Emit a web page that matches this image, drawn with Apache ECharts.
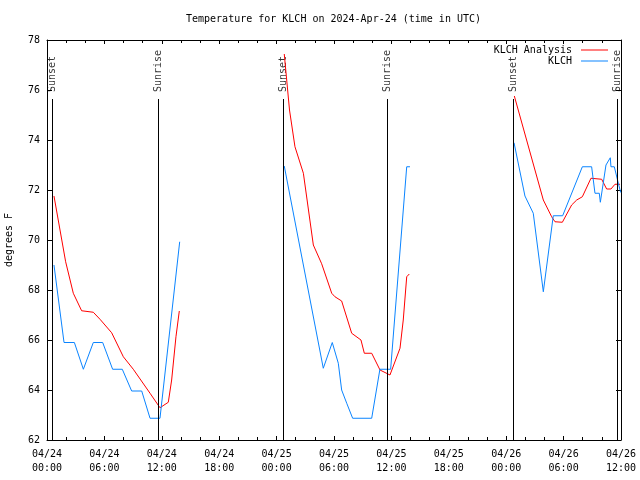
<!DOCTYPE html>
<html>
<head>
<meta charset="utf-8">
<script src="https://cdn.jsdelivr.net/npm/echarts@6/dist/echarts.min.js"></script>
<style>
html,body{margin:0;padding:0;background:#fff;}
#chart{width:640px;height:480px;}
</style>
</head>
<body>
<div id="chart"></div>
<script>
// ---- data (hours since 2024-04-24 00:00 UTC) ----
const xTickLabels = ['04/24\n00:00','04/24\n06:00','04/24\n12:00','04/24\n18:00','04/25\n00:00','04/25\n06:00','04/25\n12:00','04/25\n18:00','04/26\n00:00','04/26\n06:00','04/26\n12:00'];

const analysisTime = [0.73,1.95,2.75,3.62,4.84,5.54,6.76,7.98,9.02,10.77,11.81,12.68,13.03,13.48,13.83,
  null,
  24.8,25.35,25.92,26.8,27.84,28.71,29.76,30.1,30.8,31.85,32.82,33.17,33.94,34.81,35.85,36.9,37.24,37.6,37.87,
  null,
  48.85,51.88,52.75,53.1,53.87,54.84,55.37,55.96,56.86,57.98,58.5,58.95,59.37,59.9];
const analysisTemp = [71.76,69.13,67.87,67.17,67.11,66.83,66.29,65.33,64.83,63.87,63.29,63.51,64.4,66.13,67.16,
  null,
  77.44,75.2,73.73,72.67,69.8,69.05,67.87,67.73,67.56,66.27,66.0,65.47,65.47,64.8,64.6,65.67,66.8,68.53,68.64,
  null,
  75.76,71.6,70.93,70.73,70.71,71.4,71.6,71.73,72.47,72.43,72.04,72.04,72.23,72.23];

const obsTime = [0.73,1.78,2.86,3.8,4.84,5.82,6.86,7.87,8.85,9.9,10.77,11.81,13.87,
  null,
  24.8,28.88,29.82,30.45,30.8,31.33,31.95,33.94,34.8,35.92,37.6,37.94,
  null,
  48.82,49.96,50.83,51.88,52.92,53.9,55.96,56.93,57.28,57.73,57.84,58.43,58.88,58.95,59.3,59.72,59.97];
const obsTemp = [69.0,65.9,65.9,64.83,65.9,65.9,64.83,64.83,63.96,63.96,62.87,62.87,69.93,
  null,
  72.96,64.87,65.9,65.07,64.0,63.47,62.87,62.87,64.83,64.83,72.93,72.93,
  null,
  73.89,71.76,71.07,67.93,70.97,70.97,72.93,72.93,71.87,71.87,71.51,73.0,73.29,72.93,72.93,72.27,71.9];

const sunTime  = [0.6, 11.64, 24.7, 35.57, 48.74, 59.61];
const sunLabel = ['Sunset','Sunrise','Sunset','Sunrise','Sunset','Sunrise'];

// ---- chart ----
const FONT = 'DejaVu Sans Mono';
const Y_MIN = 62, Y_MAX = 78;
const SUN_LINE_TOP = 75.64;
const SUN_LABEL_Y = 75.92;

function pairs(t, v) {
  return t.map((x, i) => (x == null ? [NaN, '-'] : [x, v[i]]));
}

const chart = echarts.init(document.getElementById('chart'), null, {renderer: 'canvas'});

const axisCommonX = {
  type: 'value', min: 0, max: 60, interval: 6,
  axisLine: {show: true, onZero: false, lineStyle: {color: '#000', width: 1}},
  axisTick: {show: true, inside: true, length: 4, lineStyle: {color: '#000'}},
  minorTick: {show: true, splitNumber: 3, length: 3, lineStyle: {color: '#000'}},
  splitLine: {show: false}, minorSplitLine: {show: false}
};
const axisCommonY = {
  type: 'value', min: Y_MIN, max: Y_MAX, interval: 2,
  axisLine: {show: true, onZero: false, lineStyle: {color: '#000', width: 1}},
  axisTick: {show: true, inside: true, length: 5, lineStyle: {color: '#000'}},
  splitLine: {show: false}
};

const option = {
  animation: false,
  backgroundColor: '#fff',
  title: {
    text: 'Temperature for KLCH on 2024-Apr-24 (time in UTC)',
    left: 186, top: 14, padding: 0,
    textStyle: {fontFamily: FONT, fontSize: 10, fontWeight: 'normal', color: '#000'}
  },
  legend: {
    data: ['KLCH Analysis', 'KLCH'],
    orient: 'vertical', align: 'right',
    right: 32, top: 45, padding: 0, itemGap: 1,
    icon: 'rect', itemWidth: 27, itemHeight: 1,
    textStyle: {fontFamily: FONT, fontSize: 10, color: '#000', padding: [0, 4, 0, 0]}
  },
  grid: {left: 47, right: 19, top: 40, bottom: 40, show: false, containLabel: false, outerBoundsMode: 'none'},
  xAxis: [
    Object.assign({}, axisCommonX, {
      position: 'bottom',
      axisLabel: {
        show: true, margin: 7, fontFamily: FONT, fontSize: 10, color: '#000', lineHeight: 14,
        showMinLabel: true, showMaxLabel: true, hideOverlap: false,
        formatter: v => xTickLabels[Math.round(v / 6)]
      }
    }),
    Object.assign({}, axisCommonX, {position: 'top', axisLabel: {show: false}})
  ],
  yAxis: [
    Object.assign({}, axisCommonY, {
      position: 'left',
      name: 'degrees F', nameLocation: 'middle', nameRotate: 90, nameGap: 33,
      nameTextStyle: {fontFamily: FONT, fontSize: 10, color: '#000'},
      axisLabel: {show: true, margin: 7, fontFamily: FONT, fontSize: 10, color: '#000'}
    }),
    Object.assign({}, axisCommonY, {position: 'right', axisLabel: {show: false}})
  ],
  series: [
    {
      name: 'KLCH Analysis', type: 'line', xAxisIndex: 0, yAxisIndex: 0,
      data: pairs(analysisTime, analysisTemp),
      showSymbol: false, symbol: 'none', connectNulls: false,
      lineStyle: {color: '#ff0000', width: 1}, itemStyle: {color: '#ff0000'},
      z: 3
    },
    {
      name: 'KLCH', type: 'line', xAxisIndex: 0, yAxisIndex: 0,
      data: pairs(obsTime, obsTemp),
      showSymbol: false, symbol: 'none', connectNulls: false,
      lineStyle: {color: '#0a84ff', width: 1}, itemStyle: {color: '#0a84ff'},
      z: 4
    },
    {
      name: 'sun', type: 'scatter', xAxisIndex: 0, yAxisIndex: 0,
      silent: true, symbol: 'circle', symbolSize: 1,
      itemStyle: {color: 'rgba(0,0,0,0)'},
      data: sunTime.map((t, i) => ({value: [t, SUN_LABEL_Y], name: sunLabel[i]})),
      label: {
        show: true, position: 'inside', formatter: p => p.name,
        rotate: 90, align: 'left', verticalAlign: 'middle', offset: [-1, 2],
        fontFamily: FONT, fontSize: 10, color: '#000'
      },
      labelLayout: {hideOverlap: false},
      markLine: {
        silent: true, symbol: ['none', 'none'], animation: false,
        label: {show: false},
        lineStyle: {color: '#000', width: 1, type: 'solid'},
        data: sunTime.map(t => [{coord: [t, Y_MIN]}, {coord: [t, SUN_LINE_TOP]}])
      },
      z: 2
    }
  ]
};
chart.setOption(option);
</script>
</body>
</html>
